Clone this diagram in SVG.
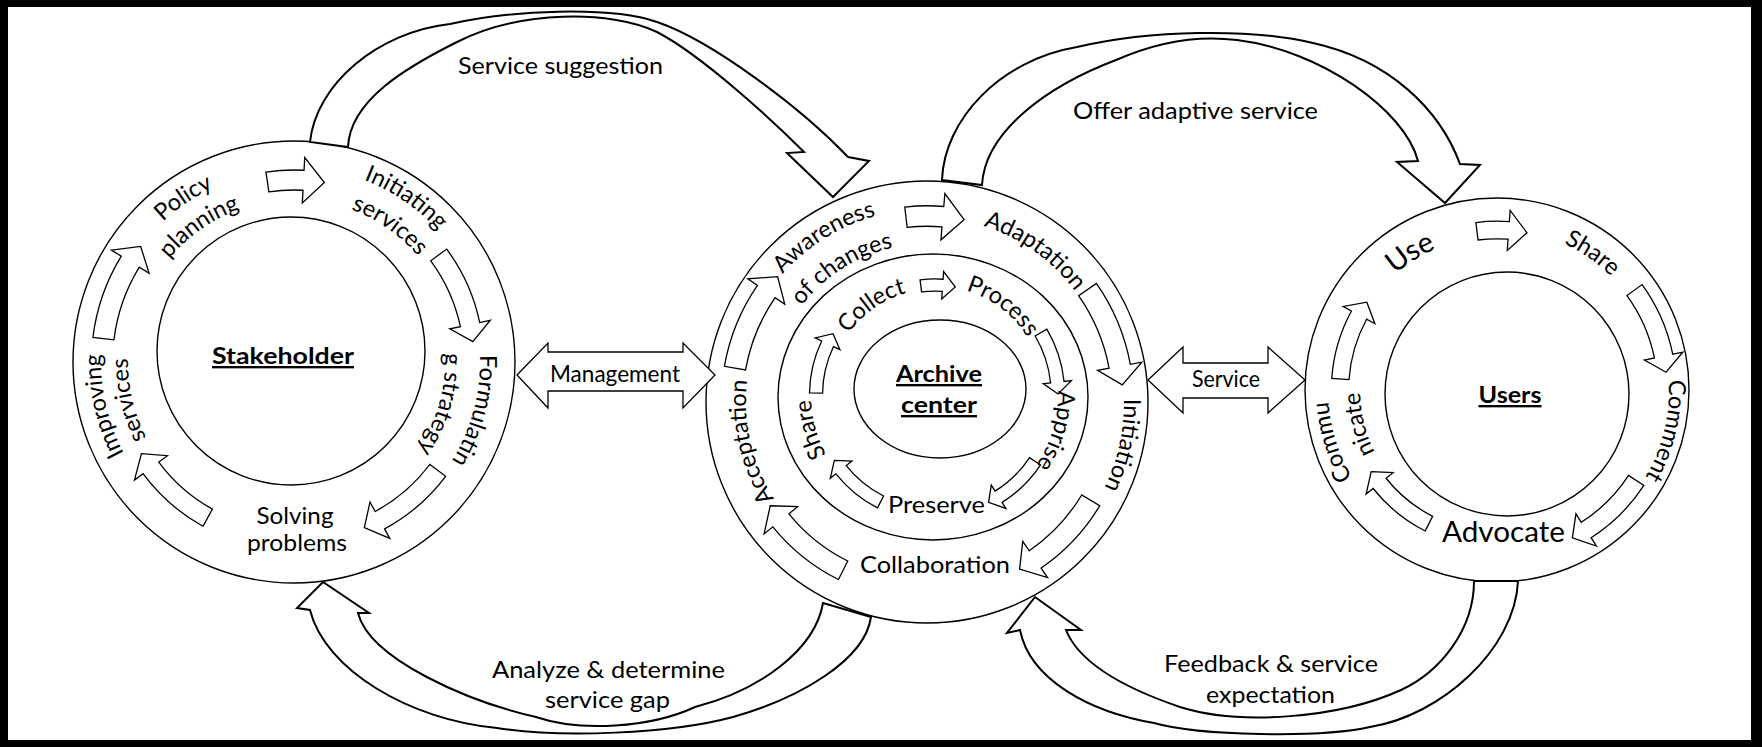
<svg xmlns="http://www.w3.org/2000/svg" width="1762" height="747" viewBox="0 0 1762 747">
<style>
.t{font-family:Lato,"Liberation Sans",sans-serif;font-size:23.5px;fill:#000}
.big-t{font-size:29px}
.b{font-weight:bold;text-decoration:underline}
.ring{fill:#fff;stroke:#000;stroke-width:1.4}
.arw{fill:#fff;stroke:#000;stroke-width:1.3}
.big{fill:#fff;stroke:#000;stroke-width:2;stroke-linejoin:miter}
.dbl{fill:#fff;stroke:#000;stroke-width:1.3}
</style>
<defs>
<path id="A1" vector-effect="non-scaling-stroke" d="M-27.305,-101.905 A105.5,105.5 0 0 1 17.413,-104.053 L18.403,-109.971 L25.882,-96.593 L14.607,-87.286 L15.597,-93.204 A94.5,94.5 0 0 0 -24.458,-91.280 Z"/>
<path id="A2" vector-effect="non-scaling-stroke" d="M-16.504,-104.201 A105.5,105.5 0 0 1 4.418,-105.407 L4.711,-112.401 L15.643,-98.769 L3.664,-87.423 L3.957,-94.417 A94.5,94.5 0 0 0 -14.783,-93.337 Z"/>
<path id="r106" d="M0,106A106,106 0 1 1 0,-106A106,106 0 1 1 0,106"/>
<path id="r109" d="M0,109A109,109 0 1 1 0,-109A109,109 0 1 1 0,109"/>
<path id="r123" d="M0,123A123,123 0 1 1 0,-123A123,123 0 1 1 0,123"/>
<path id="r124" d="M0,124A124,124 0 1 1 0,-124A124,124 0 1 1 0,124"/>
<path id="r137" d="M0,137A137,137 0 1 1 0,-137A137,137 0 1 1 0,137"/>
<path id="r151" d="M0,151A151,151 0 1 1 0,-151A151,151 0 1 1 0,151"/>
<path id="r154" d="M0,154A154,154 0 1 1 0,-154A154,154 0 1 1 0,154"/>
<path id="r158" d="M0,158A158,158 0 1 1 0,-158A158,158 0 1 1 0,158"/>
<path id="r161" d="M0,161A161,161 0 1 1 0,-161A161,161 0 1 1 0,161"/>
<path id="r162" d="M0,162A162,162 0 1 1 0,-162A162,162 0 1 1 0,162"/>
<path id="r163" d="M0,163A163,163 0 1 1 0,-163A163,163 0 1 1 0,163"/>
<path id="r166" d="M0,166A166,166 0 1 1 0,-166A166,166 0 1 1 0,166"/>
<path id="r169" d="M0,169A169,169 0 1 1 0,-169A169,169 0 1 1 0,169"/>
<path id="r172" d="M0,172A172,172 0 1 1 0,-172A172,172 0 1 1 0,172"/>
<path id="r181" d="M0,181A181,181 0 1 1 0,-181A181,181 0 1 1 0,181"/>
<path id="r185" d="M0,185A185,185 0 1 1 0,-185A185,185 0 1 1 0,185"/>
<path id="r186" d="M0,186A186,186 0 1 1 0,-186A186,186 0 1 1 0,186"/>
<path id="r192" d="M0,192A192,192 0 1 1 0,-192A192,192 0 1 1 0,192"/>
<path id="r193" d="M0,193A193,193 0 1 1 0,-193A193,193 0 1 1 0,193"/>
<path id="r195" d="M0,195A195,195 0 1 1 0,-195A195,195 0 1 1 0,195"/>
<path id="r197" d="M0,197A197,197 0 1 1 0,-197A197,197 0 1 1 0,197"/>
</defs>

<g id="frame">
<rect x="0" y="0" width="1762" height="747" fill="#000"/>
<rect x="8" y="7" width="1743" height="733" fill="#fff"/>
</g>

<g id="stakeholder">
<circle class="ring" cx="294" cy="362" r="221"/>
<circle class="ring" cx="291" cy="351" r="134"/>
<use href="#A2" class="arw" transform="translate(294,362) rotate(0.6) scale(1.82)"/>
<use href="#A1" class="arw" transform="translate(294,362) rotate(68.5) scale(1.8)"/>
<use href="#A1" class="arw" transform="translate(294,362) rotate(142) scale(1.8)"/>
<use href="#A1" class="arw" transform="translate(294,362) rotate(224) scale(1.78)"/>
<use href="#A1" class="arw" transform="translate(294,362) rotate(292) scale(1.92)"/>
<text class="t" transform="translate(294,362) rotate(-34)"><textPath href="#r192" startOffset="50%" text-anchor="middle">Policy</textPath></text>
<text class="t" transform="translate(294,362) rotate(-35)"><textPath href="#r162" startOffset="50%" text-anchor="middle">planning</textPath></text>
<text class="t" transform="translate(294,362) rotate(34.3)"><textPath href="#r195" startOffset="50%" text-anchor="middle">Initiating</textPath></text>
<text class="t" transform="translate(294,362) rotate(35)"><textPath href="#r163" startOffset="50%" text-anchor="middle">services</textPath></text>
<text class="t" transform="translate(294,362) rotate(105)"><textPath href="#r186" startOffset="50%" text-anchor="middle">Formulatin</textPath></text>
<text class="t" transform="translate(294,362) rotate(106)"><textPath href="#r151" startOffset="50%" text-anchor="middle">g strategy</textPath></text>
<text class="t" transform="translate(294,362) rotate(257)"><textPath href="#r193" startOffset="50%" text-anchor="middle">Improving</textPath></text>
<text class="t" transform="translate(294,362) rotate(257)"><textPath href="#r166" startOffset="50%" text-anchor="middle">services</textPath></text>
<text class="t" x="295" y="524" text-anchor="middle" textLength="77" lengthAdjust="spacingAndGlyphs">Solving</text>
<text class="t" x="297" y="551" text-anchor="middle" textLength="100" lengthAdjust="spacingAndGlyphs">problems</text>
<text class="t b" x="283" y="364" text-anchor="middle" textLength="142" lengthAdjust="spacingAndGlyphs">Stakeholder</text>
</g>

<g id="archive">
<circle class="ring" cx="927" cy="402" r="221"/>
<ellipse class="ring" cx="933" cy="397" rx="155" ry="143"/>
<ellipse class="ring" cx="940" cy="389" rx="86" ry="69"/>
<use href="#A2" class="arw" transform="translate(927,402) rotate(2.5) scale(1.86)"/>
<use href="#A1" class="arw" transform="translate(927,402) rotate(70) scale(1.96)"/>
<use href="#A1" class="arw" transform="translate(927,402) rotate(136) scale(1.91)"/>
<use href="#A1" class="arw" transform="translate(927,402) rotate(221.5) scale(1.88)"/>
<use href="#A1" class="arw" transform="translate(927,402) rotate(295) scale(1.95)"/>
<use href="#A2" class="arw" transform="translate(935,395) rotate(1.6) scale(1.1)"/>
<use href="#A1" class="arw" transform="translate(935,395) rotate(74.5) scale(1.23)"/>
<use href="#A1" class="arw" transform="translate(935,395) rotate(138.5) scale(1.2)"/>
<use href="#A1" class="arw" transform="translate(935,395) rotate(222) scale(1.2)"/>
<use href="#A1" class="arw" transform="translate(935,395) rotate(286) scale(1.19)"/>
<text class="t" transform="translate(927,402) rotate(-31.9)"><textPath href="#r193" startOffset="50%" text-anchor="middle">Awareness</textPath></text>
<text class="t" transform="translate(927,402) rotate(-32.4)"><textPath href="#r158" startOffset="50%" text-anchor="middle">of changes</textPath></text>
<text class="t" transform="translate(927,402) rotate(35.5)"><textPath href="#r185" startOffset="50%" text-anchor="middle">Adaptation</textPath></text>
<text class="t" transform="translate(927,402) rotate(102.4)"><textPath href="#r197" startOffset="50%" text-anchor="middle">Initiation</textPath></text>
<text class="t" transform="translate(927,402) rotate(257.3)"><textPath href="#r181" startOffset="50%" text-anchor="middle">Acceptation</textPath></text>
<text class="t" transform="translate(935,395) rotate(-35.2)"><textPath href="#r106" startOffset="50%" text-anchor="middle">Collect</textPath></text>
<text class="t" transform="translate(935,395) rotate(37.3)"><textPath href="#r109" startOffset="50%" text-anchor="middle">Process</textPath></text>
<text class="t" transform="translate(935,395) rotate(106.4)"><textPath href="#r123" startOffset="50%" text-anchor="middle">Apprise</textPath></text>
<text class="t" transform="translate(935,395) rotate(254.5)"><textPath href="#r124" startOffset="50%" text-anchor="middle">Share</textPath></text>
<text class="t" x="936.5" y="513" text-anchor="middle" textLength="97" lengthAdjust="spacingAndGlyphs">Preserve</text>
<text class="t" x="935" y="573" text-anchor="middle" textLength="150" lengthAdjust="spacingAndGlyphs">Collaboration</text>
<text class="t b" x="939" y="382" text-anchor="middle" textLength="86" lengthAdjust="spacingAndGlyphs">Archive</text>
<text class="t b" x="939" y="413" text-anchor="middle" textLength="76" lengthAdjust="spacingAndGlyphs">center</text>
</g>

<g id="users">
<circle class="ring" cx="1497" cy="390" r="192"/>
<circle class="ring" cx="1507" cy="394" r="122"/>
<use href="#A2" class="arw" transform="translate(1497,390) rotate(1.8) scale(1.6)"/>
<use href="#A1" class="arw" transform="translate(1497,390) rotate(69) scale(1.7)"/>
<use href="#A1" class="arw" transform="translate(1497,390) rotate(138) scale(1.66)"/>
<use href="#A1" class="arw" transform="translate(1497,390) rotate(222) scale(1.5)"/>
<use href="#A1" class="arw" transform="translate(1497,390) rotate(289) scale(1.57)"/>
<text class="t big-t" transform="translate(1497,390) rotate(-32.3)"><textPath href="#r154" startOffset="50%" text-anchor="middle">Use</textPath></text>
<text class="t" transform="translate(1497,390) rotate(34.9)"><textPath href="#r161" startOffset="50%" text-anchor="middle">Share</textPath></text>
<text class="t" transform="translate(1497,390) rotate(103.5)"><textPath href="#r172" startOffset="50%" text-anchor="middle">Comment</textPath></text>
<text class="t" transform="translate(1497,390) rotate(252.5)"><textPath href="#r169" startOffset="50%" text-anchor="middle">Commu</textPath></text>
<text class="t" transform="translate(1497,390) rotate(256)"><textPath href="#r137" startOffset="50%" text-anchor="middle">nicate</textPath></text>
<text class="t big-t" x="1503.5" y="542" text-anchor="middle" textLength="123" lengthAdjust="spacingAndGlyphs">Advocate</text>
<text class="t b" x="1510" y="403" text-anchor="middle" textLength="63" lengthAdjust="spacingAndGlyphs">Users</text>
</g>

<g id="connectors">
<path class="big" d="M310,142 C316,84 378,32 450,24 C510,10 610,6 657,22 C713,41 802,109 848,157 L869,161 L833,197 L787,153 L804,152 C774,122 703,56 657,32 C610,10 520,10 457,42 C407,67 350,100 348,147 Z"/>
<path class="big" d="M942,180 C944,120 1000,60 1077,47 C1150,30 1250,28 1313,43 C1390,60 1440,110 1460,164 L1480,165 L1445,203 L1397,162 L1418,161 C1405,110 1320,50 1237,40 C1190,34 1150,45 1116,60 C1050,85 985,130 982,185 Z"/>
<path class="big" d="M823,603 C815,650 760,690 695,707 C650,728 580,732 536,717 C470,702 370,660 358,613 L369,613 L323,582 L297,608 L310,610 C325,670 410,720 497,728 C560,738 670,734 733,717 C800,698 865,660 871,617 Z"/>
<path class="big" d="M1474,581 C1474,630 1440,672 1401,690 C1340,718 1240,726 1180,707 C1130,690 1080,665 1066,630 L1081,630 L1035,597 L1007,633 L1020,630 C1030,680 1090,712 1154,723 C1200,736 1320,738 1370,727 C1440,716 1515,650 1518,581 Z"/>
<path class="dbl" d="M517,375 L548,343 L548,352 L683,352 L683,343 L715,375 L683,408 L683,391 L548,391 L548,408 Z"/>
<path class="dbl" d="M1148,380 L1183,347 L1183,363 L1268,363 L1268,347 L1305,380 L1268,413 L1268,398 L1183,398 L1183,413 Z"/>
<text class="t" x="560.5" y="74" text-anchor="middle" textLength="205" lengthAdjust="spacingAndGlyphs">Service suggestion</text>
<text class="t" x="1195.5" y="119" text-anchor="middle" textLength="245" lengthAdjust="spacingAndGlyphs">Offer adaptive service</text>
<text class="t" x="608.5" y="678" text-anchor="middle" textLength="233" lengthAdjust="spacingAndGlyphs">Analyze &amp; determine</text>
<text class="t" x="607.5" y="708" text-anchor="middle" textLength="125" lengthAdjust="spacingAndGlyphs">service gap</text>
<text class="t" x="1271" y="672" text-anchor="middle" textLength="214" lengthAdjust="spacingAndGlyphs">Feedback &amp; service</text>
<text class="t" x="1270.5" y="703" text-anchor="middle" textLength="129" lengthAdjust="spacingAndGlyphs">expectation</text>
<text class="t" x="615" y="382" text-anchor="middle" font-size="21.5" textLength="130" lengthAdjust="spacingAndGlyphs">Management</text>
<text class="t" x="1226" y="387" text-anchor="middle" font-size="20" textLength="68" lengthAdjust="spacingAndGlyphs">Service</text>
</g>
</svg>
